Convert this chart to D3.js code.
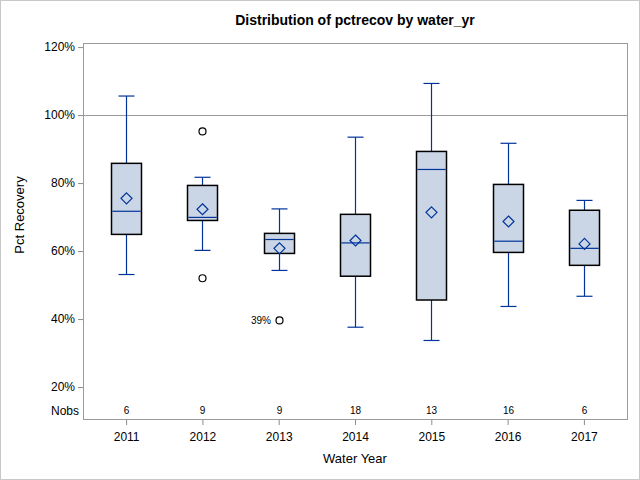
<!DOCTYPE html>
<html>
<head>
<meta charset="utf-8">
<script src="https://cdn.jsdelivr.net/npm/d3@7"></script>
<style>
  body { margin: 0; background: #fff; }
  text { font-family: "Liberation Sans", Arial, sans-serif; }
</style>
</head>
<body>
<div id="chart"></div>
<script>
// values (percent)
var years = ["2011", "2012", "2013", "2014", "2015", "2016", "2017"];
var nobs = [6, 9, 9, 18, 13, 16, 6];
var whiskerLow = [53.1, 60.2, 54.3, 37.6, 33.7, 43.7, 46.7];
var q1 = [64.9, 69.0, 59.3, 52.6, 45.6, 59.6, 55.8];
var medians = [71.7, 69.9, 63.4, 62.4, 84.0, 62.9, 60.8];
var q3 = [85.8, 79.3, 65.2, 70.8, 89.3, 79.6, 72.0];
var whiskerHigh = [105.6, 81.7, 72.4, 93.5, 109.3, 91.7, 74.9];
var means = [75.5, 72.3, 60.8, 63.1, 71.4, 68.7, 62.1];
var outlierYears = ["2012", "2012", "2013"];
var outlierValues = [95.2, 52.0, 39.6];
var outlierLabels = ["", "", "39%"];
var yTicks = [20, 40, 60, 80, 100, 120];
var refLine = 100;

var W = 640, H = 480;
var margin = { top: 43, right: 13, bottom: 61, left: 83 };
var width = W - margin.left - margin.right;
var height = H - margin.top - margin.bottom;

var boxColor = "#cad5e5";
var lineBlue = "#00349a";

var svg = d3.select("#chart")
    .append("svg")
    .attr("width", W)
    .attr("height", H);

// outer frame
svg.append("rect")
    .attr("x", 0.5).attr("y", 0.5)
    .attr("width", W - 1).attr("height", H - 1)
    .attr("fill", "#fff")
    .attr("stroke", "#c8c8c8");

svg.append("text")
    .attr("x", margin.left + width / 2)
    .attr("y", 25)
    .attr("text-anchor", "middle")
    .style("font-size", "14px")
    .style("font-weight", "bold")
    .text("Distribution of pctrecov by water_yr");

var g = svg.append("g")
    .attr("transform", "translate(" + margin.left + "," + margin.top + ")");

var x = d3.scalePoint()
    .domain(years)
    .range([0, width])
    .padding(0.565);

var y = d3.scaleLinear()
    .domain([10.6, 121.2])
    .range([height, 0]);

var yAxis = d3.axisLeft(y)
    .tickValues(yTicks)
    .tickSize(5)
    .tickPadding(3)
    .tickFormat(function(d) { return d + "%"; });

var xAxis = d3.axisBottom(x)
    .tickSize(6)
    .tickPadding(5);

g.append("g")
    .attr("class", "y-axis axis")
    .call(yAxis);

g.append("g")
    .attr("class", "x-axis axis")
    .attr("transform", "translate(0," + height + ")")
    .call(xAxis);

g.selectAll(".axis path, .axis line").attr("stroke", "#8c8c8c");
g.selectAll(".axis path").remove();
g.selectAll(".axis text")
    .style("font-size", "12px")
    .attr("fill", "#000")
    .style("font-family", "'Liberation Sans', Arial, sans-serif");
g.selectAll(".x-axis text").attr("dy", "0.9em");

// plot border
g.append("rect")
    .attr("x", 0.5).attr("y", 0.5)
    .attr("width", width).attr("height", height)
    .attr("fill", "none")
    .attr("stroke", "#9a9a9a");

// 100% reference line
g.append("line")
    .attr("x1", 0).attr("x2", width)
    .attr("y1", Math.round(y(refLine)) + 0.5)
    .attr("y2", Math.round(y(refLine)) + 0.5)
    .attr("stroke", "#9a9a9a");

var boxW = 30, capW = 15;
var data = years.map(function(d, i) {
    return { year: d, lo: whiskerLow[i], q1: q1[i], med: medians[i], q3: q3[i],
             hi: whiskerHigh[i], mean: means[i], n: nobs[i] };
});

var box = g.selectAll(".box")
    .data(data)
    .enter()
    .append("g")
    .attr("class", "box")
    .attr("transform", function(d) { return "translate(" + Math.round(x(d.year)) + ",0)"; });

// whiskers
box.append("line")
    .attr("x1", 0.5).attr("x2", 0.5)
    .attr("y1", function(d) { return y(d.hi); })
    .attr("y2", function(d) { return y(d.q3); })
    .attr("stroke", lineBlue).attr("stroke-width", 1.2);
box.append("line")
    .attr("x1", 0.5).attr("x2", 0.5)
    .attr("y1", function(d) { return y(d.q1); })
    .attr("y2", function(d) { return y(d.lo); })
    .attr("stroke", lineBlue).attr("stroke-width", 1.2);
box.append("line")
    .attr("x1", -capW / 2).attr("x2", capW / 2 + 1)
    .attr("y1", function(d) { return y(d.hi); })
    .attr("y2", function(d) { return y(d.hi); })
    .attr("stroke", lineBlue).attr("stroke-width", 1.2);
box.append("line")
    .attr("x1", -capW / 2).attr("x2", capW / 2 + 1)
    .attr("y1", function(d) { return y(d.lo); })
    .attr("y2", function(d) { return y(d.lo); })
    .attr("stroke", lineBlue).attr("stroke-width", 1.2);

box.append("rect")
    .attr("x", -boxW / 2 + 0.5)
    .attr("y", function(d) { return y(d.q3); })
    .attr("width", boxW)
    .attr("height", function(d) { return y(d.q1) - y(d.q3); })
    .attr("fill", boxColor)
    .attr("stroke", "#000")
    .attr("stroke-width", 1.5);

box.append("line")
    .attr("x1", -boxW / 2 + 1.3).attr("x2", boxW / 2 - 0.3)
    .attr("y1", function(d) { return y(d.med); })
    .attr("y2", function(d) { return y(d.med); })
    .attr("stroke", lineBlue).attr("stroke-width", 1.2);

// mean diamond
box.append("path")
    .attr("d", "M0,-5.5L5.5,0L0,5.5L-5.5,0Z")
    .attr("transform", function(d) { return "translate(0.5," + y(d.mean) + ")"; })
    .attr("fill", "none")
    .attr("stroke", lineBlue)
    .attr("stroke-width", 1.2);

// Nobs inset
box.append("text")
    .attr("x", 0.5)
    .attr("y", y(10.6) - 5)
    .attr("text-anchor", "middle")
    .style("font-size", "10px")
    .text(function(d) { return d.n; });

g.append("text")
    .attr("x", -4)
    .attr("y", y(10.6) - 4)
    .attr("text-anchor", "end")
    .style("font-size", "12px")
    .text("Nobs");

// outliers
g.selectAll(".outlier")
    .data(outlierValues)
    .enter()
    .append("circle")
    .attr("class", "outlier")
    .attr("cx", function(d, i) { return Math.round(x(outlierYears[i])) + 0.5; })
    .attr("cy", function(d) { return y(d); })
    .attr("r", 3.5)
    .attr("fill", "none")
    .attr("stroke", "#000")
    .attr("stroke-width", 1.2);

g.selectAll(".outlier-label")
    .data(outlierValues)
    .enter()
    .append("text")
    .attr("class", "outlier-label")
    .attr("x", function(d, i) { return Math.round(x(outlierYears[i])) - 8; })
    .attr("y", function(d) { return y(d) + 4; })
    .attr("text-anchor", "end")
    .style("font-size", "10px")
    .text(function(d, i) { return outlierLabels[i]; });

// axis titles
svg.append("text")
    .attr("x", margin.left + width / 2)
    .attr("y", 463)
    .attr("text-anchor", "middle")
    .style("font-size", "13px")
    .text("Water Year");

svg.append("text")
    .attr("transform", "translate(24,215) rotate(-90)")
    .attr("text-anchor", "middle")
    .style("font-size", "13px")
    .text("Pct Recovery");
</script>
</body>
</html>
